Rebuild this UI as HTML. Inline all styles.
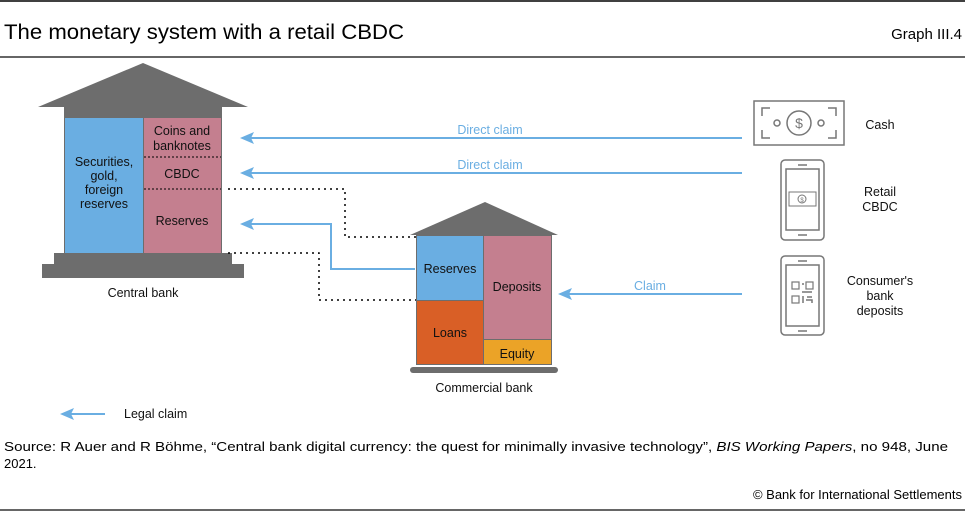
<!DOCTYPE html>
<html><head><meta charset="utf-8"><style>
body{margin:0;background:#fff;}
svg{display:block;font-family:"Liberation Sans",sans-serif;}
</style></head><body>
<svg width="965" height="512" viewBox="0 0 965 512" xmlns="http://www.w3.org/2000/svg">
<line x1="0" y1="1" x2="965" y2="1" stroke="#000" stroke-width="1.5"/>
<text x="4" y="39" font-size="21" fill="#000" textLength="400" lengthAdjust="spacingAndGlyphs">The monetary system with a retail CBDC</text>
<text x="962" y="39" font-size="15" text-anchor="end" fill="#000">Graph III.4</text>
<line x1="0" y1="57" x2="965" y2="57" stroke="#333" stroke-width="1.5"/>

<polygon points="38,107 143,63 248,107" fill="#6d6d6d"/>
<rect x="64" y="106" width="158" height="148" fill="#6d6d6d"/>
<rect x="65" y="118" width="78" height="135" fill="#6aaee2"/>
<rect x="144" y="118" width="77" height="135" fill="#c47f8f"/>
<line x1="144" y1="157" x2="221" y2="157" stroke="#000" stroke-dasharray="2,2"/>
<line x1="144" y1="189" x2="221" y2="189" stroke="#000" stroke-dasharray="2,2"/>
<rect x="54" y="253" width="178" height="12" fill="#6d6d6d"/>
<rect x="42" y="264" width="202" height="14" fill="#6d6d6d"/>
<g font-size="12.5" text-anchor="middle" fill="#111">
<text x="104" y="166">Securities,</text>
<text x="104" y="180">gold,</text>
<text x="104" y="194">foreign</text>
<text x="104" y="208">reserves</text>
<text x="182" y="135">Coins and</text>
<text x="182" y="150">banknotes</text>
<text x="182" y="178">CBDC</text>
<text x="182" y="225">Reserves</text>
<text x="143" y="297">Central bank</text>
</g>

<polygon points="410,235 485,202 558,235" fill="#6d6d6d"/>
<rect x="416" y="234" width="136" height="131" fill="#6d6d6d"/>
<rect x="417" y="236" width="66" height="64" fill="#6aaee2"/>
<rect x="484" y="236" width="67" height="103" fill="#c47f8f"/>
<rect x="417" y="301" width="66" height="63" fill="#d95f26"/>
<rect x="484" y="340" width="67" height="24" fill="#eba327"/>
<rect x="410" y="367" width="148" height="6" rx="3" fill="#6d6d6d"/>
<g font-size="12.5" text-anchor="middle" fill="#111">
<text x="450" y="273">Reserves</text>
<text x="517" y="291">Deposits</text>
<text x="450" y="337">Loans</text>
<text x="517" y="358">Equity</text>
<text x="484" y="392">Commercial bank</text>
</g>

<polyline points="228,189 345,189 345,237 416,237" fill="none" stroke="#000" stroke-width="1.5" stroke-dasharray="2,4"/>
<polyline points="228,253 319,253 319,300 416,300" fill="none" stroke="#000" stroke-width="1.5" stroke-dasharray="2,4"/>

<g stroke="#6aaee2" stroke-width="2" fill="none">
<line x1="742" y1="138" x2="250" y2="138"/>
<line x1="742" y1="173" x2="250" y2="173"/>
<polyline points="415,269 331,269 331,224 250,224"/>
<line x1="742" y1="294" x2="568" y2="294"/>
<line x1="105" y1="414" x2="68" y2="414"/>
</g>
<g fill="#6aaee2">
<polygon points="240,138 254,132 251,138 254,144"/>
<polygon points="240,173 254,167 251,173 254,179"/>
<polygon points="240,224 254,218 251,224 254,230"/>
<polygon points="558,294 572,288 569,294 572,300"/>
<polygon points="60,414 74,408 71,414 74,420"/>
</g>
<g font-size="12.5" text-anchor="middle" fill="#6aaee2">
<text x="490" y="134">Direct claim</text>
<text x="490" y="169">Direct claim</text>
<text x="650" y="290">Claim</text>
</g>
<text x="124" y="418" font-size="12.5" fill="#111">Legal claim</text>

<g stroke="#777" fill="none" stroke-width="1.5">
<rect x="754" y="101" width="90" height="44"/>
<path d="M762,116 v-8 h8 M836,116 v-8 h-8 M762,130 v8 h8 M836,130 v8 h-8"/>
<circle cx="799" cy="123" r="12"/>
<circle cx="777" cy="123" r="3"/>
<circle cx="821" cy="123" r="3"/>
<rect x="781" y="160" width="43" height="80" rx="4"/>
<rect x="786" y="169" width="33" height="61"/>
<line x1="798" y1="165" x2="807" y2="165"/>
<line x1="798" y1="235" x2="807" y2="235"/>
<rect x="789" y="192" width="27" height="14" stroke-width="1"/>
<circle cx="802" cy="199" r="4" stroke-width="1"/>
<rect x="781" y="256" width="43" height="79" rx="4"/>
<rect x="786" y="265" width="33" height="61"/>
<line x1="798" y1="261" x2="807" y2="261"/>
<line x1="798" y1="331" x2="807" y2="331"/>
<rect x="792" y="282" width="7" height="7" stroke-width="1.2"/>
<rect x="806" y="282" width="7" height="7" stroke-width="1.2"/>
<rect x="792" y="296" width="7" height="7" stroke-width="1.2"/>
<path d="M802,284 h2 M802,292 h10 M803,296 v7 M807,297 h5 M806,300 h6 v3" stroke-width="1.5"/>
</g>
<text x="799" y="128" font-size="14" text-anchor="middle" fill="#777">$</text>
<text x="802" y="202" font-size="6" text-anchor="middle" fill="#777">$</text>
<g font-size="12.5" text-anchor="middle" fill="#111">
<text x="880" y="129">Cash</text>
<text x="880" y="196">Retail</text>
<text x="880" y="211">CBDC</text>
<text x="880" y="285">Consumer's</text>
<text x="880" y="300">bank</text>
<text x="880" y="315">deposits</text>
</g>

<text x="4" y="451" font-size="13" fill="#000" textLength="944" lengthAdjust="spacingAndGlyphs">Source: R Auer and R Böhme, “Central bank digital currency: the quest for minimally invasive technology”, <tspan font-style="italic">BIS Working Papers</tspan>, no 948, June</text>
<text x="4" y="468" font-size="13" fill="#000">2021.</text>
<text x="962" y="499" font-size="13" text-anchor="end" fill="#000">© Bank for International Settlements</text>
<line x1="0" y1="510" x2="965" y2="510" stroke="#333" stroke-width="1.5"/>
</svg>
</body></html>
